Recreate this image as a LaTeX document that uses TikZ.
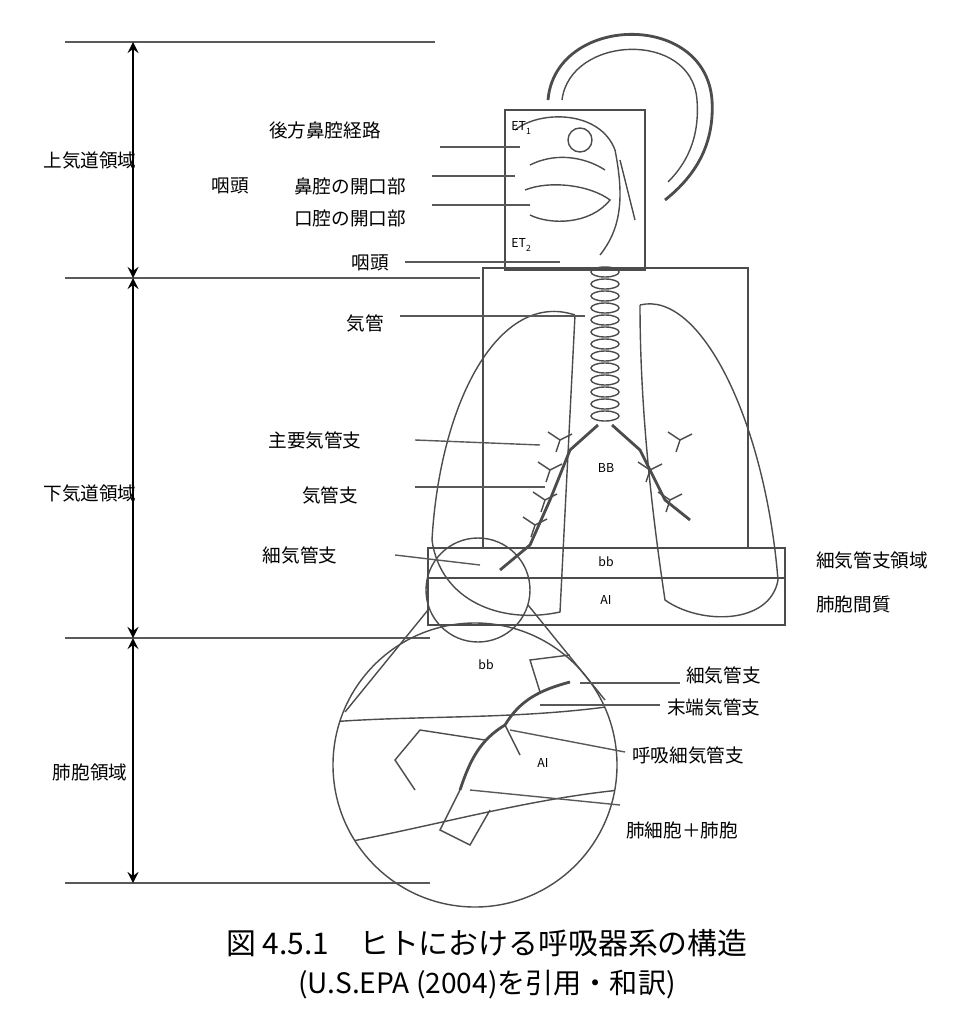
\documentclass[tikz,border=0pt]{standalone}
\usepackage{fontspec}
\setmainfont{Noto Sans CJK JP}
\newfontfamily\capfont{Noto Sans CJK JP}
\usetikzlibrary{calc,arrows}
\begin{document}
\begin{tikzpicture}[x=0.1mm,y=-0.1mm,
lbl/.style = {% region labels
    font=\fontsize{5.3}{6}\selectfont, inner sep=1pt,
            },
tiny/.style = {font=\fontsize{3.5}{4}\selectfont, inner sep=1pt},
ldr/.style = {gray!70!black, thin},
anat/.style = {gray!60!black, thin},
                        ]
\useasboundingbox (0,0) rectangle (976,1024);
% level lines
\foreach \y/\xe in {42/435, 278/480, 638/430, 883/430}
  {\draw[gray!70!black, thick] (65,\y) -- (\xe,\y);}
% vertical dimension arrows
\foreach \ya/\yb in {42/278, 278/638, 638/883}
  {\draw[<->, >=stealth, thin] (133,\ya) -- (133,\yb);}
\node[lbl] (upper) at (90,160) {上気道領域};
\node[lbl] (lower) at (90,493) {下気道領域};
\node[lbl] (alv)   at (90,772) {肺胞領域};
% head
\draw[anat, thick] (548,100) .. controls (555,15) and (705,10) .. (712,100)
   .. controls (715,150) and (690,180) .. (665,200);
\draw[anat] (562,100) .. controls (570,35) and (692,30) .. (697,100)
   .. controls (700,140) and (685,165) .. (668,182);
\draw[anat] (515,130) .. controls (540,110) and (600,110) .. (615,150)
   .. controls (625,200) and (620,230) .. (600,255);
\draw[anat] (530,165) .. controls (560,150) and (590,160) .. (605,170);
\draw[anat] (525,190) .. controls (550,180) and (590,185) .. (610,200)
   .. controls (590,225) and (550,225) .. (530,215);
\draw[anat] (580,140) circle (12);
\draw[anat] (620,160) -- (635,220);
% boxes
\draw[anat] (505,110) rectangle (645,270);
\node[tiny] (et1) at (522,128) {ET\textsubscript{1}};
\node[tiny] (et2) at (522,245) {ET\textsubscript{2}};
\draw[anat] (483,268) rectangle (748,548);
\draw[anat] (428,548) rectangle (785,578);
\draw[anat] (428,578) rectangle (785,625);
\node[tiny] (bbl) at (606,562) {bb};
\node[tiny] (ail) at (606,600) {AI};
\node[tiny] (bbu) at (606,468) {BB};
% trachea
\foreach \y in {272,284,...,420}
  {\draw[anat] (605,\y) ellipse (14 and 5);}
% lungs
\draw[anat] (575,315) .. controls (500,290) and (440,400) .. (432,540)
   .. controls (440,600) and (500,625) .. (560,612) -- (575,315);
\draw[anat] (640,305) .. controls (700,290) and (765,420) .. (778,580)
   .. controls (770,625) and (700,625) .. (665,600)
   .. controls (650,500) and (640,400) .. (640,305);
% bronchi
\draw[anat, thick] (598,425) -- (570,450) -- (550,500) -- (530,545) -- (500,570);
\draw[anat, thick] (612,425) -- (640,450) -- (665,500) -- (690,520);
\foreach \p in {(560,440),(550,470),(545,500),(535,525),(650,470),(670,500),(680,440)}
  {\draw[anat] \p -- ++(-12,-8) \p -- ++(12,-6) \p -- ++(-4,12);}
% small and large circle
\draw[anat] (478,590) circle (52);
\draw[anat] (475,765) circle (142);
\draw[anat] (428,610) -- (345,712);
\draw[anat] (528,605) -- (605,700);
\begin{scope}
\clip (475,765) circle (142);
\draw[anat] (330,722) .. controls (420,715) and (520,720) .. (620,705);
\draw[anat] (330,845) .. controls (420,830) and (520,800) .. (620,790);
\end{scope}
\node[tiny] (bbc) at (486,665) {bb};
\node[tiny] (aic) at (543,763) {AI};
% airway tree in circle
\draw[anat, thick] (570,682) .. controls (540,690) and (520,700) .. (505,725)
   .. controls (480,740) and (470,760) .. (460,790);
\draw[anat] (505,725) -- (520,755);
\draw[anat] (485,740) -- (420,730) -- (395,760) -- (415,790);
\draw[anat] (460,790) -- (440,830) -- (470,845) -- (490,810);
\draw[anat] (540,692) -- (530,660) -- (570,655);
% leader lines and labels
\node[lbl, anchor=east] (nasal) at (385,130) {後方鼻腔経路};
\draw[ldr] (440,147) -- (520,147);
\node[lbl] (phar1) at (230,186) {咽頭};
\node[lbl] (nopen) at (350,186) {鼻腔の開口部};
\draw[ldr] (432,176) -- (515,176);
\node[lbl] (mopen) at (350,218) {口腔の開口部};
\draw[ldr] (432,205) -- (530,205);
\node[lbl] (phar2) at (370,263) {咽頭};
\draw[ldr] (405,262) -- (560,262);
\node[lbl] (trach) at (365,323) {気管};
\draw[ldr] (400,316) -- (585,316);
\node[lbl] (mainb) at (315,440) {主要気管支};
\draw[ldr] (415,440) -- (540,445);
\node[lbl] (bron) at (330,495) {気管支};
\draw[ldr] (415,487) -- (545,487);
\node[lbl] (brol) at (300,555) {細気管支};
\draw[ldr] (395,555) -- (480,565);
\node[lbl, anchor=west] (bbreg) at (812,560) {細気管支領域};
\node[lbl, anchor=west] (aireg) at (812,604) {肺胞間質};
\node[lbl, anchor=west] (brol2) at (682,675) {細気管支};
\draw[ldr] (580,683) -- (680,683);
\node[lbl, anchor=west] (term) at (663,707) {末端気管支};
\draw[ldr] (540,705) -- (660,705);
\node[lbl, anchor=west] (resp) at (628,755) {呼吸細気管支};
\draw[ldr] (510,730) -- (625,752);
\node[lbl, anchor=west] (alvc) at (622,830) {肺細胞＋肺胞};
\draw[ldr] (470,790) -- (620,805);
% caption
\node[font=\fontsize{8.5}{10}\selectfont\capfont] (cap1) at (487,943) {図 4.5.1\quad ヒトにおける呼吸器系の構造};
\node[font=\fontsize{8}{10}\selectfont\capfont] (cap2) at (487,985) {(U.S.EPA (2004)を引用・和訳)};
\end{tikzpicture}
\end{document}
